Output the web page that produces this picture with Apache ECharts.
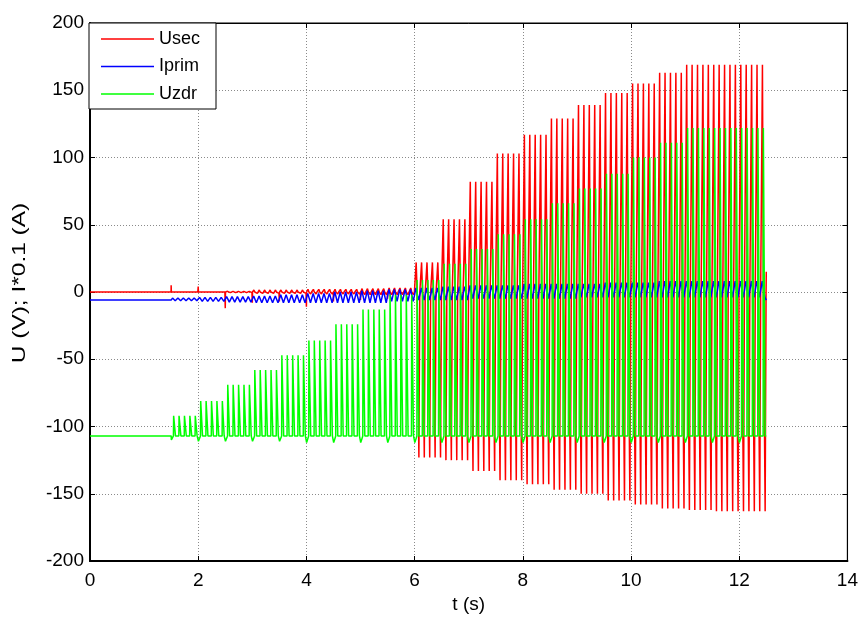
<!DOCTYPE html>
<html>
<head>
<meta charset="utf-8">
<script src="https://cdn.jsdelivr.net/npm/echarts@6/dist/echarts.min.js"></script>
<style>
html,body{margin:0;padding:0;background:#fff;}
#chart{width:861px;height:619px;}
</style>
</head>
<body>
<div id="chart"></div>
<script>
// ---- data ----
const xTicks = [0, 2, 4, 6, 8, 10, 12, 14];
const yTicks = [-200, -150, -100, -50, 0, 50, 100, 150, 200];
const seriesNames = ['Usec', 'Iprim', 'Uzdr'];
const xTitle = 't (s)';
const yTitle = 'U (V); I*0.1 (A)';

// start time of each 0.5 s step of the drive
const stepStart = [1.5, 2.0, 2.5, 3.0, 3.5, 4.0, 4.5, 5.0, 5.5, 6.0, 6.5, 7.0, 7.5, 8.0, 8.5, 9.0, 9.5, 10.0, 10.5, 11.0, 11.5, 12.0];
const endTime = 12.5;
const cyclePeriod = 0.1;   // 10 Hz oscillation, 5 cycles per step

// Usec (V): level before drive, upper peak, lower peak, spike at the step change
const usecIdle = 0;
const usecTop = [0, 0, 0.5, 1.5, 1.5, 2, 2, 2.5, 3, 22, 54, 82, 103, 117, 129, 139, 148, 155, 163, 169, 169, 169];
const usecBottom = [0, 0, -0.5, -1, -1, -1.5, -1.5, -2, -2, -123, -125, -133, -140, -143, -147, -150, -155, -158, -161, -162, -163, -163];
const usecStepSpike = [5, 4, -12, -8, -7, -11, -7, -6, -5, 0, 0, 0, 0, 0, 0, 0, 0, 0, 0, 0, 0, 0];
const usecEnd = 15;

// Iprim*0.1 (A): level before drive, lower and upper peaks per step
const iprimIdle = -6;
const iprimLow = [-6.5, -7, -7.5, -8, -8, -8, -8, -8, -7, -6, -6, -5, -5, -5, -5, -4, -4, -4, -4, -4, -4, -4];
const iprimHigh = [-4.5, -4, -3.5, -3, -2, -1, 0, 1, 2, 3, 4, 5, 5, 6, 6, 6, 7, 7, 8, 8, 8, 8];

// Uzdr (V): level before drive, upper peak per step, lower level, dip at the step change
const uzdrIdle = -107;
const uzdrTop = [-92, -81, -69, -58, -47, -36, -24, -13, -2, 9, 21, 32, 43, 54, 66, 77, 88, 100, 111, 122, 122, 122];
const uzdrBottom = [-107, -107, -107, -107, -107, -107, -107, -107, -107, -107, -107, -107, -107, -107, -107, -107, -107, -107, -107, -107, -107, -107];
const uzdrStepDip = [-110, -111, -111, -111, -111, -112, -112, -112, -112, -112, -112, -112, -112, -112, -112, -112, -112, -112, -112, -112, -112, -112];

// ---- build point lists from the envelopes ----
function round(v){ return Math.round(v * 10000) / 10000; }
function buildUsec(){
  const d = [[0, usecIdle], [stepStart[0] - 0.001, usecIdle]];
  stepStart.forEach((s, i) => {
    d.push([s, usecStepSpike[i] || usecIdle]);
    d.push([round(s + 0.004), usecIdle]);
    for (let c = 0; c < 5; c++) {
      const t = s + c * cyclePeriod;
      d.push([round(t + 0.026), usecIdle]);
      d.push([round(t + 0.029), usecTop[i]]);
      d.push([round(t + 0.043), usecTop[i]]);
      d.push([round(t + 0.046), usecIdle]);
      d.push([round(t + 0.076), usecIdle]);
      d.push([round(t + 0.079), usecBottom[i]]);
      d.push([round(t + 0.093), usecBottom[i]]);
      d.push([round(t + 0.096), usecIdle]);
    }
  });
  d.push([endTime, usecEnd]);
  return d;
}
function buildIprim(){
  const d = [[0, iprimIdle], [stepStart[0], iprimIdle]];
  stepStart.forEach((s, i) => {
    for (let c = 0; c < 5; c++) {
      const t = s + c * cyclePeriod;
      d.push([round(t + 0.025), iprimHigh[i]]);
      d.push([round(t + 0.075), iprimLow[i]]);
    }
  });
  d.push([endTime, iprimIdle]);
  return d;
}
function buildUzdr(){
  const d = [[0, uzdrIdle], [stepStart[0], uzdrIdle]];
  stepStart.forEach((s, i) => {
    for (let c = 0; c < 5; c++) {
      const t = s + c * cyclePeriod;
      const low = c === 0 ? uzdrStepDip[i] : uzdrBottom[i];
      d.push([round(t + 0.004), low]);
      d.push([round(t + 0.042), uzdrBottom[i]]);
      d.push([round(t + 0.046), uzdrTop[i]]);
      d.push([round(t + 0.076), uzdrTop[i]]);
      d.push([round(t + 0.080), uzdrBottom[i]]);
    }
  });
  d.push([endTime, uzdrIdle]);
  return d;
}

const colors = ['#ff0000', '#0000ff', '#00ff00'];
const font = "'Liberation Sans', Arial, sans-serif";
const chart = echarts.init(document.getElementById('chart'), null, {renderer: 'canvas'});

const lineSeries = (name, data, color) => ({
  name, type: 'line', data, xAxisIndex: 0, yAxisIndex: 0,
  showSymbol: false, symbol: 'none', animation: false,
  lineStyle: {color, width: 1.5}, itemStyle: {color}
});

chart.setOption({
  backgroundColor: '#ffffff',
  animation: false,
  grid: {left: 90, top: 23, right: 13, bottom: 52, show: true, borderColor: '#000', borderWidth: 1.2, backgroundColor: 'transparent'},
  legend: {
    orient: 'vertical', left: 89, top: 23,
    data: seriesNames.map((n, i) => ({name: n, icon: 'rect', itemStyle: {color: colors[i]}})),
    itemWidth: 53, itemHeight: 1.5, itemGap: 7.5,
    padding: [6, 16, 5, 12],
    backgroundColor: '#ffffff', borderColor: '#000', borderWidth: 1,
    textStyle: {fontFamily: font, fontSize: 18, color: '#000', lineHeight: 20},
    selectedMode: false
  },
  graphic: [{
    type: 'text',
    x: 20, y: 283, rotation: Math.PI / 2, scaleX: 1.36, scaleY: 1,
    style: {text: yTitle, font: "18px 'Liberation Sans', Arial, sans-serif", fill: '#000', align: 'center', verticalAlign: 'middle', textAlign: 'center', textVerticalAlign: 'middle'}
  }],
  xAxis: [{
    type: 'value', min: xTicks[0], max: xTicks[xTicks.length - 1], interval: 2,
    name: xTitle, nameLocation: 'middle', nameGap: 34,
    nameTextStyle: {fontFamily: font, fontSize: 19, color: '#000'},
    axisLine: {show: true, onZero: false, lineStyle: {color: '#000', width: 2}},
    axisTick: {show: true, inside: true, length: 5, lineStyle: {color: '#000'}},
    axisLabel: {fontFamily: font, fontSize: 19, color: '#000', margin: 10},
    splitLine: {show: true, lineStyle: {color: '#8a8a8a', type: [1, 2], width: 1}}
  }, {
    type: 'value', position: 'top', min: xTicks[0], max: xTicks[xTicks.length - 1], interval: 2,
    axisLine: {show: true, onZero: false, lineStyle: {color: '#000', width: 1}},
    axisTick: {show: true, inside: true, length: 5, lineStyle: {color: '#000'}},
    axisLabel: {show: false}, splitLine: {show: false}
  }],
  yAxis: [{
    type: 'value', min: yTicks[0], max: yTicks[yTicks.length - 1], interval: 50,
    axisLine: {show: true, onZero: false, lineStyle: {color: '#000', width: 2}},
    axisTick: {show: true, inside: true, length: 5, lineStyle: {color: '#000'}},
    axisLabel: {fontFamily: font, fontSize: 19, color: '#000', margin: 6},
    splitLine: {show: true, lineStyle: {color: '#8a8a8a', type: [1, 2], width: 1}}
  }, {
    type: 'value', position: 'right', min: yTicks[0], max: yTicks[yTicks.length - 1], interval: 50,
    axisLine: {show: true, onZero: false, lineStyle: {color: '#000', width: 1}},
    axisTick: {show: true, inside: true, length: 5, lineStyle: {color: '#000'}},
    axisLabel: {show: false}, splitLine: {show: false}
  }],
  series: [
    lineSeries(seriesNames[0], buildUsec(), colors[0]),
    lineSeries(seriesNames[1], buildIprim(), colors[1]),
    lineSeries(seriesNames[2], buildUzdr(), colors[2])
  ]
});
</script>
</body>
</html>
